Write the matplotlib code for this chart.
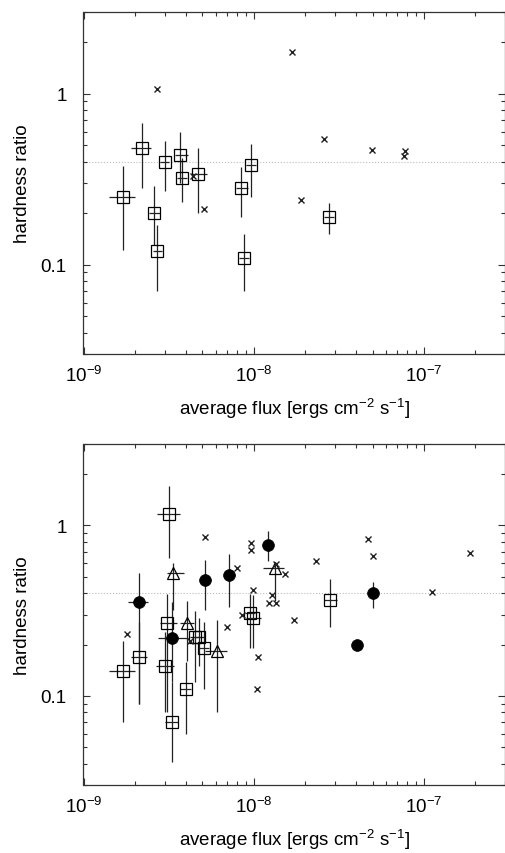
import matplotlib
matplotlib.use("Agg")
import matplotlib.pyplot as plt
import numpy as np
from matplotlib.ticker import LogLocator, FixedLocator, FixedFormatter, NullFormatter

plt.rcParams['font.family'] = ['Liberation Sans', 'DejaVu Sans']
plt.rcParams['mathtext.fontset'] = 'custom'
plt.rcParams['mathtext.rm'] = 'Liberation Sans'
plt.rcParams['mathtext.it'] = 'Liberation Sans:italic'
plt.rcParams['mathtext.bf'] = 'Liberation Sans:bold'

# ---------------- top panel data ----------------
top_sq_x   = [1.71e-9, 2.21e-9, 2.61e-9, 2.72e-9, 3.0e-9, 3.7e-9, 3.8e-9, 4.73e-9, 8.4e-9, 8.83e-9, 9.66e-9, 2.79e-8]
top_sq_y   = [0.249, 0.48, 0.20, 0.12, 0.40, 0.438, 0.32, 0.34, 0.28, 0.11, 0.38, 0.19]
top_sq_xlo = [1.41e-9, 1.91e-9, 2.42e-9, 2.55e-9, 2.8e-9, 3.45e-9, 3.55e-9, 4.3e-9, 7.9e-9, 8.25e-9, 9.0e-9, 2.6e-8]
top_sq_xhi = [2.0e-9, 2.5e-9, 2.8e-9, 2.9e-9, 3.2e-9, 4.1e-9, 4.05e-9, 5.3e-9, 9.3e-9, 9.45e-9, 1.03e-8, 2.98e-8]
top_sq_ylo = [0.121, 0.279, 0.13, 0.07, 0.27, 0.30, 0.231, 0.20, 0.19, 0.07, 0.25, 0.15]
top_sq_yhi = [0.378, 0.677, 0.289, 0.17, 0.529, 0.597, 0.42, 0.478, 0.37, 0.15, 0.51, 0.229]

top_x_x = [2.72e-9, 1.69e-8, 2.58e-8, 4.95e-8, 7.73e-8, 7.62e-8, 1.91e-8, 5.14e-9, 4.38e-9]
top_x_y = [1.06, 1.75, 0.54, 0.469, 0.459, 0.43, 0.239, 0.211, 0.33]

# ---------------- bottom panel data ----------------
bot_sq_x   = [3.16e-9, 3.1e-9, 4.53e-9, 4.8e-9, 5.14e-9, 2.11e-9, 1.71e-9, 3.0e-9, 3.98e-9, 3.3e-9, 9.55e-9, 9.97e-9, 2.82e-8]
bot_sq_y   = [1.17, 0.269, 0.22, 0.22, 0.19, 0.17, 0.139, 0.15, 0.11, 0.07, 0.308, 0.285, 0.365]
bot_sq_xlo = [2.7e-9, 2.8e-9, 4.25e-9, 4.5e-9, 4.8e-9, 1.9e-9, 1.41e-9, 2.68e-9, 3.7e-9, 3.0e-9, 8.9e-9, 9.0e-9, 2.6e-8]
bot_sq_xhi = [3.7e-9, 3.55e-9, 4.85e-9, 5.1e-9, 5.5e-9, 2.35e-9, 2.0e-9, 3.4e-9, 4.3e-9, 3.6e-9, 1.02e-8, 1.1e-8, 3.1e-8]
bot_sq_ylo = [0.64, 0.08, 0.12, 0.15, 0.11, 0.09, 0.07, 0.08, 0.06, 0.041, 0.19, 0.19, 0.252]
bot_sq_yhi = [1.69, 0.394, 0.315, 0.287, 0.27, 0.27, 0.21, 0.236, 0.157, 0.12, 0.394, 0.39, 0.487]

bot_tri_x   = [3.38e-9, 4.07e-9, 6.05e-9, 1.33e-8]
bot_tri_y   = [0.523, 0.269, 0.184, 0.565]
bot_tri_xlo = [3.1e-9, 3.7e-9, 5.2e-9, 1.14e-8]
bot_tri_xhi = [3.9e-9, 4.45e-9, 7.0e-9, 1.5e-8]
bot_tri_ylo = [0.32, 0.16, 0.08, 0.36]
bot_tri_yhi = [0.60, 0.36, 0.28, 0.60]

bot_dot_x   = [2.11e-9, 3.3e-9, 5.19e-9, 7.2e-9, 1.22e-8, 5.0e-8, 4.05e-8]
bot_dot_y   = [0.357, 0.218, 0.478, 0.51, 0.767, 0.40, 0.198]
bot_dot_xlo = [1.83e-9, 2.74e-9, 4.85e-9, 6.7e-9, 1.15e-8, 4.8e-8, 3.9e-8]
bot_dot_xhi = [2.39e-9, 4.1e-9, 5.6e-9, 7.75e-9, 1.29e-8, 5.2e-8, 4.2e-8]
bot_dot_ylo = [0.089, 0.12, 0.32, 0.33, 0.62, 0.329, 0.19]
bot_dot_yhi = [0.528, 0.354, 0.63, 0.68, 0.93, 0.465, 0.21]

bot_x_x = [5.19e-9, 9.6e-9, 9.6e-9, 8.03e-9, 9.93e-9, 1.29e-8, 1.23e-8, 1.36e-8, 1.35e-8, 8.5e-9, 6.97e-9,
           1.53e-8, 2.33e-8, 4.69e-8, 5.02e-8, 1.11e-7, 1.87e-7, 1.73e-8, 1.79e-9, 4.24e-9, 1.06e-8, 1.05e-8]
bot_x_y = [0.859, 0.784, 0.717, 0.565, 0.418, 0.389, 0.352, 0.352, 0.596, 0.298, 0.252,
           0.52, 0.618, 0.828, 0.658, 0.409, 0.689, 0.279, 0.23, 0.21, 0.169, 0.11]

ref_ratio = 0.4
xlim = (1e-9, 3e-7)
ylim = (0.03, 3)
xtick_vals = [1e-9, 1e-8, 1e-7]
xtick_labels = [r'$10^{-9}$', r'$10^{-8}$', r'$10^{-7}$']
ytick_vals = [0.1, 1]
ytick_labels = ['0.1', '1']

W, H = 506, 854
fig = plt.figure(figsize=(W / 100, H / 100), dpi=100)
L = 83.5 / W
Wd = (505 - 83.5) / W
ax_top = fig.add_axes([L, 1 - 355 / H, Wd, (355 - 13) / H])
ax_bot = fig.add_axes([L, 1 - 786 / H, Wd, (786 - 445) / H])

ecol = '#222222'


def eb(ax, x, y, xlo, xhi, ylo, yhi, **kw):
    x = np.array(x); y = np.array(y)
    xerr = [x - np.array(xlo), np.array(xhi) - x]
    yerr = [y - np.array(ylo), np.array(yhi) - y]
    ax.errorbar(x, y, xerr=xerr, yerr=yerr, fmt='none', ecolor=ecol, elinewidth=0.9, capsize=0, zorder=2)
    ax.plot(x, y, linestyle='none', zorder=3, **kw)


sq_kw = dict(marker='s', ms=8, mfc='none', mec='black', mew=0.9)
tri_kw = dict(marker='^', ms=9, mfc='none', mec='black', mew=0.9)
dot_kw = dict(marker='o', ms=8.5, mfc='black', mec='black', mew=0.5)
x_kw = dict(marker='x', ms=4, mec='#222222', mew=1.0)

for ax in (ax_top, ax_bot):
    ax.set_xscale('log')
    ax.set_yscale('log')
    ax.set_xlim(*xlim)
    ax.set_ylim(*ylim)
    ax.axhline(ref_ratio, color='#bbbbbb', linestyle=':', linewidth=0.8, zorder=1)
    ax.yaxis.set_major_locator(FixedLocator(ytick_vals))
    ax.yaxis.set_major_formatter(FixedFormatter(ytick_labels))
    ax.yaxis.set_minor_locator(LogLocator(base=10, subs=np.arange(2, 10), numticks=20))
    ax.yaxis.set_minor_formatter(NullFormatter())
    ax.xaxis.set_major_locator(FixedLocator(xtick_vals))
    ax.xaxis.set_major_formatter(FixedFormatter(xtick_labels))
    ax.xaxis.set_minor_locator(LogLocator(base=10, subs=np.arange(2, 10), numticks=20))
    ax.xaxis.set_minor_formatter(NullFormatter())
    ax.tick_params(which='both', direction='in', top=True, right=True, color='#333333', width=0.8)
    ax.tick_params(which='major', length=5)
    ax.tick_params(which='minor', length=3)
    ax.tick_params(axis='x', which='major', labelsize=13.5, pad=8)
    ax.tick_params(axis='y', which='major', labelsize=13.5, pad=12)
    for s in ax.spines.values():
        s.set_linewidth(0.9)
        s.set_color('#333333')
    ax.set_xlabel(r'average flux [ergs cm$^{-2}$ s$^{-1}$]', fontsize=13.5, labelpad=8)
    ax.set_ylabel('hardness ratio', fontsize=13.5, labelpad=7)

eb(ax_top, top_sq_x, top_sq_y, top_sq_xlo, top_sq_xhi, top_sq_ylo, top_sq_yhi, **sq_kw)
ax_top.plot(top_x_x, top_x_y, linestyle='none', zorder=3, **x_kw)

eb(ax_bot, bot_sq_x, bot_sq_y, bot_sq_xlo, bot_sq_xhi, bot_sq_ylo, bot_sq_yhi, **sq_kw)
eb(ax_bot, bot_tri_x, bot_tri_y, bot_tri_xlo, bot_tri_xhi, bot_tri_ylo, bot_tri_yhi, **tri_kw)
eb(ax_bot, bot_dot_x, bot_dot_y, bot_dot_xlo, bot_dot_xhi, bot_dot_ylo, bot_dot_yhi, **dot_kw)
ax_bot.plot(bot_x_x, bot_x_y, linestyle='none', zorder=3, **x_kw)

fig.savefig('out.png', dpi=100)
